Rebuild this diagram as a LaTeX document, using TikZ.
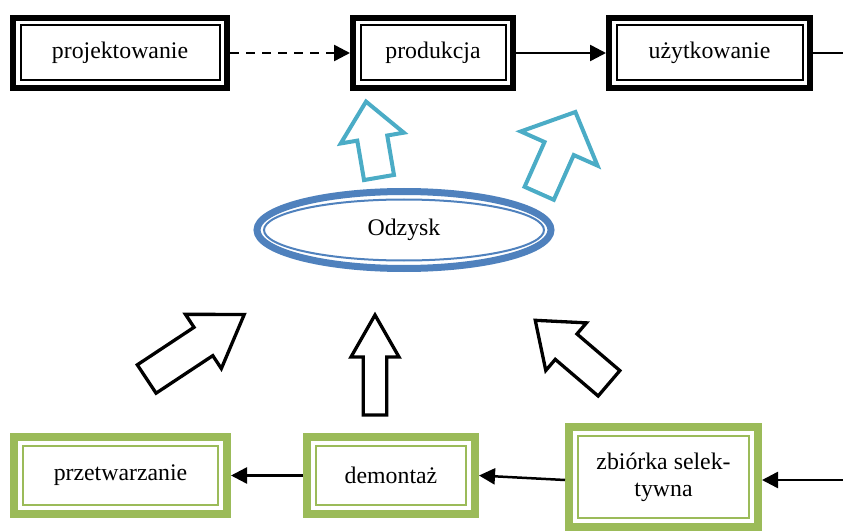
\documentclass[tikz,border=0pt]{standalone}
\usepackage{fontspec}
\setmainfont{Liberation Serif}
\usepackage{tikz}
\usetikzlibrary{arrows.meta,shapes.geometric}
\definecolor{zielony}{HTML}{9BBB59}
\definecolor{niebieski}{HTML}{4F81BD}
\definecolor{turkus}{HTML}{4BACC6}
\newcommand{\blokstrzalka}[7][]{%
	\draw[#1,shift={#2},rotate=#3] (0,-#5) -- ({#4-#7},-#5) -- ({#4-#7},-#6) -- (#4,0) -- ({#4-#7},#6) -- ({#4-#7},#5) -- (0,#5) -- cycle;}

\begin{document}
\begin{tikzpicture}[x=1pt, y=1pt, font=\fontsize{23.8}{27}\selectfont,
	etap/.style={draw=black, line width=6pt, minimum height=70pt, inner sep=0pt},
	odpad/.style={draw=zielony, line width=8pt, minimum height=77pt, inner sep=0pt, align=center},
	odzysk/.style={ellipse, draw=niebieski, line width=7pt, minimum width=294pt, minimum height=77pt, inner sep=0pt},
	ramka/.style={line width=2pt},
	pol/.style={line width=2.5pt, -{Triangle[length=16pt,width=16pt]}},
	blok/.style={draw=black, line width=3.3pt},
	blokn/.style={draw=turkus, line width=4pt}]
			\useasboundingbox (0,0) rectangle (843,531);
			\node[etap, minimum width=214pt] (proj) at (120,478) {projektowanie};
			\node[etap, minimum width=160pt] (prod) at (433,478) {produkcja};
			\node[etap, minimum width=201pt] (uzyt) at (709.5,478) {użytkowanie};
			\node[odzysk] (odz) at (404,301) {Odzysk};
			\node[odpad, minimum width=213pt] (prze) at (120.5,55.5) {przetwarzanie};
			\node[odpad, minimum width=168pt] (dem) at (391,55.5) {demontaż};
			\node[odpad, minimum width=189pt, minimum height=100pt] (zbi) at (663.5,54) {zbiórka selek-\\tywna};
			\foreach \n in {proj,prod,uzyt}
				\draw[ramka] ([shift={(10.5,-10.5)}]\n.north west) rectangle ([shift={(-10.5,10.5)}]\n.south east);
			\foreach \n in {prze,dem,zbi}
				\draw[ramka, zielony] ([shift={(12.8,-12.8)}]\n.north west) rectangle ([shift={(-12.8,12.8)}]\n.south east);
			\draw[niebieski, line width=2pt] (odz.center) ellipse [x radius=140pt, y radius=30.5pt];
			\blokstrzalka[blokn]{(379,353.5)}{99.7}{77}{15.2}{32}{37}
			\blokstrzalka[blokn]{(539.2,337.7)}{66}{89}{16}{42}{40}
			\blokstrzalka[blok]{(146.7,152)}{33.5}{117}{17}{32.5}{49}
			\blokstrzalka[blok]{(375,116)}{90}{100}{11.7}{24}{42}
			\blokstrzalka[blok]{(609,147.7)}{139.5}{97}{16.7}{31.3}{40.6}
			\coordinate (wyj) at (843,478);
			\coordinate (wej) at (843,51);
			\draw[pol, dash pattern=on 9pt off 7pt] (proj) -- (prod);
			\draw[pol] (prod) -- (uzyt);
			\draw[line width=2.5pt] (uzyt) -- (wyj);
			\draw[pol] (wej) -- (wej -| zbi.east);
			\draw[pol] ([yshift=-3pt]zbi.west) -- (dem.east);
			\draw[pol] (dem) -- (prze);
		\end{tikzpicture}
\end{document}
